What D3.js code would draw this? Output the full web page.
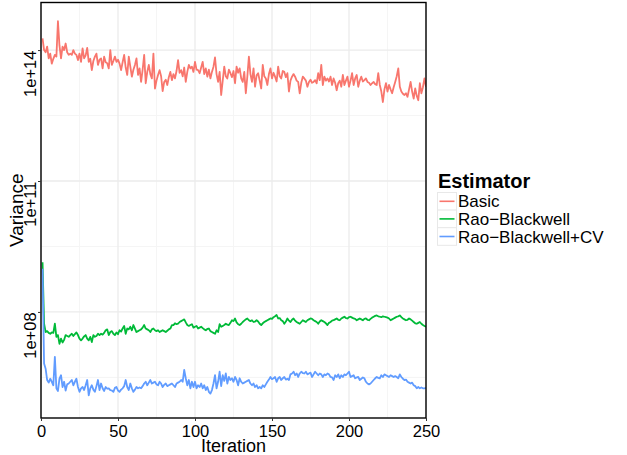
<!DOCTYPE html>
<html><head><meta charset="utf-8">
<script src="https://cdn.jsdelivr.net/npm/d3@7"></script>
<style>body{margin:0;background:#fff}svg{display:block;font-family:"Liberation Sans",Arial,sans-serif}</style>
</head><body><svg id="c" width="627" height="455"></svg>
<script>
const seriesNames = ["Basic", "Rao\u2212Blackwell", "Rao\u2212Blackwell+CV"];
const seriesColors = ["#F8766D", "#00BA38", "#619CFF"];
const xTicks = [0, 50, 100, 150, 200, 250];
const xMinorTicks = [25, 75, 125, 175, 225];
const yTickExps = [8, 11, 14];
const yMinorExps = [6.5, 9.5, 12.5];
const yTickLabels = ["1e+08", "1e+11", "1e+14"];
const xTitle = "Iteration", yTitle = "Variance", legendTitle = "Estimator";

// log10(variance) per iteration 1..250
const basicLog10 = [14.27,14.00,13.95,14.08,13.81,13.92,13.69,13.80,13.89,13.85,
14.66,14.10,13.81,14.08,14.00,14.15,13.95,13.89,13.92,13.89,
14.00,13.92,13.89,13.77,13.92,13.73,14.04,13.81,13.88,14.05,
13.73,13.80,13.54,13.75,13.85,13.92,13.66,13.78,13.81,13.58,
13.85,13.72,13.70,13.58,14.00,13.66,13.75,13.85,13.73,13.78,
13.69,13.54,13.72,13.89,13.60,13.43,13.85,13.62,13.39,13.55,
13.66,13.81,13.43,13.58,13.27,13.55,13.89,13.24,13.50,13.66,
13.45,13.35,13.92,13.12,13.30,13.43,13.54,13.40,13.06,13.27,
13.32,13.20,13.38,13.50,13.31,13.45,13.35,13.52,13.77,13.48,
13.54,13.40,13.60,13.27,13.50,13.66,13.58,13.62,13.50,13.73,
13.55,13.54,13.47,13.60,13.73,13.45,13.58,13.39,13.55,13.35,
13.50,13.62,13.83,13.45,13.27,13.50,12.97,13.30,13.62,13.40,
13.35,13.55,13.47,13.38,13.52,13.24,13.62,13.48,13.58,13.35,
13.27,13.50,13.01,13.40,13.85,13.45,13.27,13.58,13.16,13.42,
13.47,13.30,13.12,13.66,13.40,13.35,13.20,13.45,13.58,13.35,
13.48,13.39,13.28,13.62,13.40,13.35,13.52,13.50,13.38,13.47,
13.05,13.30,13.39,13.45,13.39,13.30,13.27,13.01,13.25,13.39,
13.35,13.30,13.16,13.27,13.32,13.25,13.27,13.31,13.24,13.47,
13.31,13.66,13.20,13.39,13.30,13.35,13.28,13.39,13.20,13.35,
13.25,13.08,13.24,13.30,13.16,13.43,13.20,13.30,13.39,13.16,
13.30,13.47,13.20,13.35,13.43,13.16,13.30,13.39,13.28,13.31,
13.35,13.27,13.25,13.20,13.24,13.27,13.22,13.20,13.47,13.20,
13.05,12.81,13.10,13.24,13.05,13.20,13.10,13.01,13.15,13.27,
13.40,13.58,13.16,13.05,13.00,12.97,13.01,12.93,13.10,13.27,
13.05,12.89,13.12,12.95,12.85,13.24,13.01,13.15,13.35,13.16];

const raoBlackwellLog10 = [9.14,7.73,7.54,7.56,7.52,7.50,7.53,7.52,7.73,7.43,
7.47,7.27,7.39,7.30,7.36,7.47,7.45,7.43,7.47,7.50,
7.45,7.49,7.53,7.47,7.39,7.35,7.39,7.44,7.47,7.39,
7.35,7.43,7.31,7.47,7.43,7.45,7.50,7.47,7.50,7.48,
7.52,7.58,7.60,7.47,7.54,7.56,7.50,7.47,7.53,7.49,
7.58,7.55,7.62,7.68,7.50,7.62,7.60,7.66,7.58,7.70,
7.62,7.54,7.56,7.58,7.60,7.64,7.70,7.62,7.60,7.58,
7.54,7.60,7.62,7.58,7.56,7.58,7.54,7.56,7.58,7.56,
7.54,7.57,7.60,7.62,7.70,7.70,7.74,7.72,7.73,7.77,
7.79,7.81,7.83,7.76,7.70,7.68,7.70,7.72,7.64,7.66,
7.68,7.62,7.64,7.66,7.63,7.60,7.58,7.61,7.62,7.56,
7.54,7.52,7.50,7.58,7.54,7.72,7.66,7.68,7.70,7.73,
7.71,7.70,7.75,7.81,7.79,7.85,7.76,7.72,7.70,7.73,
7.77,7.80,7.83,7.85,7.81,7.79,7.81,7.77,7.78,7.81,
7.78,7.73,7.70,7.74,7.77,7.79,7.81,7.83,7.85,7.84,
7.88,7.90,7.93,7.85,7.86,7.81,7.79,7.73,7.78,7.85,
7.80,7.77,7.82,7.85,7.80,7.77,7.75,7.73,7.77,7.81,
7.79,7.77,7.81,7.83,7.85,7.84,7.81,7.79,7.77,7.73,
7.78,7.81,7.79,7.77,7.74,7.70,7.75,7.77,7.80,7.81,
7.83,7.85,7.82,7.81,7.85,7.87,7.89,7.86,7.85,7.88,
7.89,7.87,7.85,7.84,7.81,7.83,7.85,7.83,7.81,7.84,
7.85,7.82,7.81,7.84,7.87,7.89,7.91,7.92,7.90,7.89,
7.88,7.90,7.89,7.88,7.87,7.85,7.81,7.83,7.85,7.87,
7.89,7.90,7.92,7.88,7.85,7.83,7.81,7.82,7.85,7.83,
7.80,7.77,7.74,7.73,7.75,7.77,7.73,7.70,7.68,7.66];

const raoBlackwellCVLog10 = [8.99,6.82,6.70,6.44,6.38,6.47,6.40,6.32,6.97,6.25,
6.19,6.47,6.55,6.28,6.40,6.20,6.34,6.36,6.40,6.44,
6.32,6.40,6.47,6.28,6.17,6.25,6.28,6.21,6.32,6.44,
6.09,6.25,6.32,6.22,6.17,6.30,6.44,6.21,6.36,6.25,
6.19,6.28,6.24,6.25,6.21,6.20,6.17,6.26,6.28,6.20,
6.17,6.22,6.25,6.30,6.44,6.28,6.21,6.36,6.25,6.17,
6.22,6.28,6.25,6.27,6.25,6.30,6.36,6.40,6.32,6.38,
6.44,6.36,6.38,6.40,6.34,6.32,6.40,6.36,6.28,6.33,
6.36,6.30,6.32,6.34,6.36,6.32,6.28,6.36,6.38,6.40,
6.44,6.40,6.67,6.48,6.32,6.44,6.25,6.40,6.28,6.40,
6.25,6.32,6.28,6.36,6.25,6.32,6.21,6.28,6.17,6.13,
6.21,6.36,6.55,6.25,6.40,6.63,6.30,6.55,6.42,6.59,
6.36,6.51,6.44,6.48,6.40,6.51,6.44,6.32,6.48,6.40,
6.36,6.38,6.40,6.42,6.44,6.36,6.32,6.36,6.28,6.32,
6.25,6.28,6.25,6.32,6.28,6.34,6.40,6.45,6.51,6.46,
6.48,6.51,6.40,6.48,6.51,6.44,6.48,6.51,6.45,6.47,
6.44,6.57,6.59,6.63,6.55,6.59,6.51,6.59,6.63,6.60,
6.59,6.63,6.57,6.59,6.61,6.51,6.57,6.63,6.59,6.55,
6.59,6.57,6.51,6.57,6.55,6.59,6.57,6.51,6.50,6.44,
6.55,6.51,6.57,6.48,6.55,6.51,6.57,6.55,6.59,6.63,
6.51,6.53,6.55,6.48,6.50,6.51,6.44,6.47,6.50,6.48,
6.40,6.36,6.34,6.36,6.40,6.44,6.48,6.51,6.49,6.48,
6.55,6.51,6.57,6.55,6.53,6.51,6.55,6.53,6.51,6.53,
6.51,6.48,6.57,6.51,6.47,6.44,6.45,6.40,6.38,6.36,
6.38,6.32,6.30,6.25,6.28,6.25,6.27,6.25,6.25,6.26];

const allSeries = [basicLog10, raoBlackwellLog10, raoBlackwellCVLog10];

const svg = d3.select("#c");
const L = 41, R = 426, T = 2.5, B = 418;
const x = d3.scaleLinear().domain([0, 250]).range([L, R]);
const y = d3.scaleLog().domain([Math.pow(10, 5.57), Math.pow(10, 15.09)]).range([B, T]);

svg.append("rect").attr("x", L).attr("y", T).attr("width", R - L).attr("height", B - T).attr("fill", "#fff");

const grid = svg.append("g");
grid.selectAll(".mx").data(xMinorTicks).join("line")
  .attr("x1", d => x(d)).attr("x2", d => x(d)).attr("y1", T).attr("y2", B)
  .attr("stroke", "#f5f5f5").attr("stroke-width", 1);
grid.selectAll(".my").data(yMinorExps).join("line")
  .attr("y1", d => y(Math.pow(10, d))).attr("y2", d => y(Math.pow(10, d))).attr("x1", L).attr("x2", R)
  .attr("stroke", "#f5f5f5").attr("stroke-width", 1);
grid.selectAll(".Mx").data(xTicks).join("line")
  .attr("x1", d => x(d)).attr("x2", d => x(d)).attr("y1", T).attr("y2", B)
  .attr("stroke", "#ebebeb").attr("stroke-width", 1.3);
grid.selectAll(".My").data(yTickExps).join("line")
  .attr("y1", d => y(Math.pow(10, d))).attr("y2", d => y(Math.pow(10, d))).attr("x1", L).attr("x2", R)
  .attr("stroke", "#ebebeb").attr("stroke-width", 1.3);

const line = d3.line().x((d, i) => x(i + 1)).y(d => y(Math.pow(10, d)));
svg.append("clipPath").attr("id", "clp").append("rect")
  .attr("x", L).attr("y", T).attr("width", R - L).attr("height", B - T);
svg.append("g").attr("clip-path", "url(#clp)").selectAll("path").data(allSeries).join("path")
  .attr("d", d => line(d)).attr("fill", "none")
  .attr("stroke", (d, i) => seriesColors[i]).attr("stroke-width", 1.8)
  .attr("stroke-linejoin", "round");

svg.append("rect").attr("x", L).attr("y", T).attr("width", R - L).attr("height", B - T)
  .attr("fill", "none").attr("stroke", "#000").attr("stroke-width", 1.4);

const xAxis = svg.append("g").attr("transform", `translate(0,${B})`)
  .call(d3.axisBottom(x).tickValues(xTicks).tickSize(3).tickSizeOuter(0).tickFormat(d3.format("d")));
xAxis.select(".domain").remove();
xAxis.selectAll("line").attr("stroke", "#333");
xAxis.selectAll("text").attr("font-size", "16.5px").attr("fill", "#000").attr("font-family", "Liberation Sans, Arial, sans-serif")
  .attr("y", 0).attr("dy", "18.5px");

const yAxis = svg.append("g").attr("transform", `translate(${L},0)`)
  .call(d3.axisLeft(y).tickValues(yTickExps.map(e => Math.pow(10, e))).tickSize(3).tickSizeOuter(0)
    .tickFormat((d, i) => yTickLabels[i]));
yAxis.select(".domain").remove();
yAxis.selectAll("line").attr("stroke", "#333");
yAxis.selectAll("text").attr("font-size", "16.5px").attr("fill", "#000").attr("font-family", "Liberation Sans, Arial, sans-serif")
  .attr("transform", "rotate(-90)").attr("text-anchor", "end").attr("x", 0).attr("y", -5).attr("dy", 0);

svg.append("text").attr("x", (L + R) / 2).attr("y", 452).attr("text-anchor", "middle")
  .attr("font-size", "18px").text(xTitle);
svg.append("text").attr("transform", `translate(22.5,${(T + B) / 2}) rotate(-90)`).attr("text-anchor", "middle")
  .attr("font-size", "19px").text(yTitle);

const lg = svg.append("g");
lg.append("text").attr("x", 438).attr("y", 187.5).attr("font-size", "20px").attr("font-weight", "bold").text(legendTitle);
const rowH = 17.6, top0 = 192.5;
seriesNames.forEach((name, i) => {
  const yy = top0 + i * rowH;
  lg.append("rect").attr("x", 437.5).attr("y", yy).attr("width", 19).attr("height", rowH)
    .attr("fill", "#fff").attr("stroke", "#e8e8e8").attr("stroke-width", 1);
  lg.append("line").attr("x1", 439.5).attr("x2", 454.5).attr("y1", yy + rowH / 2).attr("y2", yy + rowH / 2)
    .attr("stroke", seriesColors[i]).attr("stroke-width", 1.6);
  lg.append("text").attr("x", 458).attr("y", yy + rowH / 2 + 6).attr("font-size", "17px").text(name);
});
</script></body></html>
